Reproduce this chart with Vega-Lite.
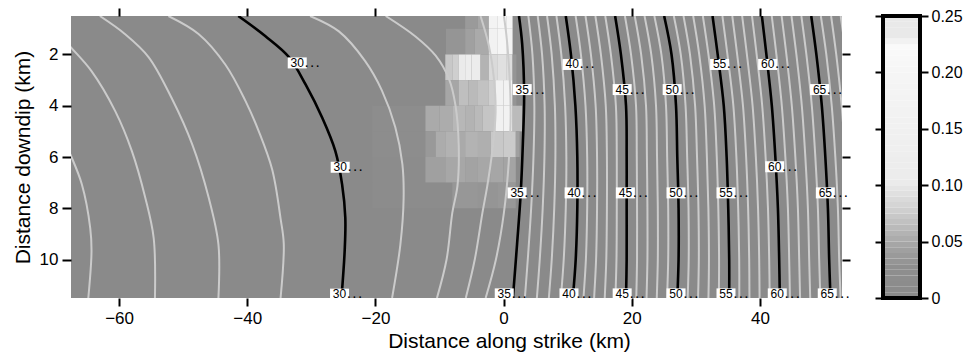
{
"$schema": "https://vega.github.io/schema/vega-lite/v6.json",
"padding": {"left": 12, "top": 7, "right": 5, "bottom": 5},
"background": "white",
"config": {"font": "Liberation Sans", "view": {"stroke": null}, "axis": {"labelFont": "Liberation Sans", "titleFont": "Liberation Sans", "labelFlush": false}},
"spacing": 23,
"datasets": {
"cells": [
{"x0":-6,"x1":-4,"d0":0.5,"d1":1,"v":0.035},{"x0":-4,"x1":-2.3,"d0":0.5,"d1":1,"v":0.045},{"x0":-2.3,"x1":-1,"d0":0.5,"d1":1,"v":0.17},{"x0":-1,"x1":0.5,"d0":0.5,"d1":1,"v":0.2},{"x0":0.5,"x1":1.4,"d0":0.5,"d1":1,"v":0.19},
{"x0":-9,"x1":-6,"d0":1,"d1":2,"v":0.03},{"x0":-6,"x1":-4.5,"d0":1,"d1":2,"v":0.04},{"x0":-4.5,"x1":-2.3,"d0":1,"d1":2,"v":0.048},{"x0":-2.3,"x1":-1,"d0":1,"d1":2,"v":0.16},{"x0":-1,"x1":0.5,"d0":1,"d1":2,"v":0.19},{"x0":0.5,"x1":1.4,"d0":1,"d1":2,"v":0.17},
{"x0":-9.1,"x1":-8,"d0":2,"d1":3,"v":0.07},{"x0":-8,"x1":-7,"d0":2,"d1":3,"v":0.075},{"x0":-7,"x1":-6,"d0":2,"d1":3,"v":0.1},{"x0":-6,"x1":-5,"d0":2,"d1":3,"v":0.12},{"x0":-5,"x1":-3.6,"d0":2,"d1":3,"v":0.11},{"x0":-3.6,"x1":-2.3,"d0":2,"d1":3,"v":0.055},{"x0":-2.3,"x1":-1,"d0":2,"d1":3,"v":0.085},{"x0":-1,"x1":0.5,"d0":2,"d1":3,"v":0.09},{"x0":0.5,"x1":1.4,"d0":2,"d1":3,"v":0.088},{"x0":1.4,"x1":2,"d0":2,"d1":3,"v":0.03},
{"x0":-9.1,"x1":-7,"d0":3,"d1":4,"v":0.045},{"x0":-7,"x1":-5.5,"d0":3,"d1":4,"v":0.064},{"x0":-5.5,"x1":-4,"d0":3,"d1":4,"v":0.06},{"x0":-4,"x1":-2.3,"d0":3,"d1":4,"v":0.066},{"x0":-2.3,"x1":-1.3,"d0":3,"d1":4,"v":0.075},{"x0":-1.3,"x1":0,"d0":3,"d1":4,"v":0.15},{"x0":0,"x1":1.4,"d0":3,"d1":4,"v":0.16},{"x0":1.4,"x1":2,"d0":3,"d1":4,"v":0.03},
{"x0":-20.5,"x1":-12.2,"d0":4,"d1":5,"v":0.014},{"x0":-12.2,"x1":-10,"d0":4,"d1":5,"v":0.048},{"x0":-10,"x1":-8,"d0":4,"d1":5,"v":0.05},{"x0":-8,"x1":-6,"d0":4,"d1":5,"v":0.058},{"x0":-6,"x1":-4.5,"d0":4,"d1":5,"v":0.055},{"x0":-4.5,"x1":-3.3,"d0":4,"d1":5,"v":0.06},{"x0":-3.3,"x1":-1.3,"d0":4,"d1":5,"v":0.068},{"x0":-1.3,"x1":0,"d0":4,"d1":5,"v":0.15},{"x0":0,"x1":1.4,"d0":4,"d1":5,"v":0.16},{"x0":1.4,"x1":2.9,"d0":4,"d1":5,"v":0.061},
{"x0":-20.5,"x1":-12.2,"d0":5,"d1":6,"v":0.014},{"x0":-12.2,"x1":-10.6,"d0":5,"d1":6,"v":0.034},{"x0":-10.6,"x1":-9,"d0":5,"d1":6,"v":0.05},{"x0":-9,"x1":-7,"d0":5,"d1":6,"v":0.054},{"x0":-7,"x1":-6,"d0":5,"d1":6,"v":0.048},{"x0":-6,"x1":-4,"d0":5,"d1":6,"v":0.055},{"x0":-4,"x1":-2,"d0":5,"d1":6,"v":0.052},{"x0":-2,"x1":0,"d0":5,"d1":6,"v":0.07},{"x0":0,"x1":1.9,"d0":5,"d1":6,"v":0.072},{"x0":1.9,"x1":2.5,"d0":5,"d1":6,"v":0.04},
{"x0":-20.5,"x1":-12.2,"d0":6,"d1":7,"v":0.012},{"x0":-12.2,"x1":-9.1,"d0":6,"d1":7,"v":0.04},{"x0":-9.1,"x1":-6,"d0":6,"d1":7,"v":0.046},{"x0":-6,"x1":-4,"d0":6,"d1":7,"v":0.042},{"x0":-4,"x1":-2,"d0":6,"d1":7,"v":0.046},{"x0":-2,"x1":0,"d0":6,"d1":7,"v":0.045},{"x0":0,"x1":1.9,"d0":6,"d1":7,"v":0.043},
{"x0":-20.5,"x1":-8,"d0":7,"d1":8,"v":0.01},{"x0":-8,"x1":-4,"d0":7,"d1":8,"v":0.032},{"x0":-4,"x1":-1,"d0":7,"d1":8,"v":0.03},{"x0":-1,"x1":1.9,"d0":7,"d1":8,"v":0.033}
],
"minor": [
{"t":26,"x":-70,"d":4.6},{"t":26,"x":-67.6,"d":5.9},{"t":26,"x":-65.8,"d":7.07},{"t":26,"x":-64.5,"d":8.77},{"t":26,"x":-64.3,"d":9.68},{"t":26,"x":-64.8,"d":11.5},
{"t":27,"x":-70,"d":1.0},{"t":27,"x":-67.7,"d":1.67},{"t":27,"x":-64.3,"d":2.65},{"t":27,"x":-60.6,"d":4.21},{"t":27,"x":-58.0,"d":5.77},{"t":27,"x":-55.9,"d":7.6},{"t":27,"x":-54.6,"d":9.16},{"t":27,"x":-54.4,"d":11.5},
{"t":28,"x":-63,"d":0.5},{"t":28,"x":-59.1,"d":1.2},{"t":28,"x":-55.4,"d":2.1},{"t":28,"x":-51.8,"d":3.7},{"t":28,"x":-48.6,"d":5.5},{"t":28,"x":-46.0,"d":7.6},{"t":28,"x":-44.5,"d":9.4},{"t":28,"x":-44.5,"d":11.5},
{"t":29,"x":-52.3,"d":0.5},{"t":29,"x":-47.6,"d":1.2},{"t":29,"x":-43.4,"d":2.4},{"t":29,"x":-40.3,"d":3.8},{"t":29,"x":-38.2,"d":5.0},{"t":29,"x":-36.1,"d":6.5},{"t":29,"x":-34.8,"d":8.4},{"t":29,"x":-34.3,"d":9.4},{"t":29,"x":-34.8,"d":11.5},
{"t":31,"x":-30.2,"d":0.5},{"t":31,"x":-25.7,"d":1.1},{"t":31,"x":-21.6,"d":2.26},{"t":31,"x":-19.0,"d":3.4},{"t":31,"x":-16.9,"d":4.84},{"t":31,"x":-15.8,"d":6.27},{"t":31,"x":-15.6,"d":7.6},{"t":31,"x":-16.1,"d":9.4},{"t":31,"x":-17.4,"d":11.5},
{"t":32,"x":-18.4,"d":0.5},{"t":32,"x":-13.75,"d":1.3},{"t":32,"x":-10.6,"d":2.05},{"t":32,"x":-8.5,"d":2.97},{"t":32,"x":-7.5,"d":4.0},{"t":32,"x":-7.0,"d":5.57},{"t":32,"x":-7.2,"d":7.13},{"t":32,"x":-8.0,"d":8.17},{"t":32,"x":-8.9,"d":10},{"t":32,"x":-10.4,"d":11.5},
{"t":33,"x":-3.6,"d":0.5},{"t":33,"x":-2.3,"d":1.66},{"t":33,"x":-1.5,"d":2.97},{"t":33,"x":-1.25,"d":4.27},{"t":33,"x":-1.8,"d":5.83},{"t":33,"x":-2.55,"d":7.13},{"t":33,"x":-3.3,"d":8.17},{"t":33,"x":-4.5,"d":10},{"t":33,"x":-5.9,"d":11.5},
{"t":34,"x":0.05,"d":0.5},{"t":34,"x":0.6,"d":1.66},{"t":34,"x":1.1,"d":4.27},{"t":34,"x":0.8,"d":6.2},{"t":34,"x":0.05,"d":8.17},{"t":34,"x":-1.2,"d":10},{"t":34,"x":-2.8,"d":11.5},
{"t":36,"x":3.86,"d":0.5},{"t":36,"x":4.5,"d":2},{"t":36,"x":4.8,"d":4},{"t":36,"x":4.66,"d":6},{"t":36,"x":4.3,"d":8},{"t":36,"x":3.77,"d":10},{"t":36,"x":3.32,"d":11.5},
{"t":37,"x":5.32,"d":0.5},{"t":37,"x":6.0,"d":2},{"t":37,"x":6.4,"d":4},{"t":37,"x":6.37,"d":6},{"t":37,"x":6.1,"d":8},{"t":37,"x":5.64,"d":10},{"t":37,"x":5.19,"d":11.5},
{"t":38,"x":6.78,"d":0.5},{"t":38,"x":7.5,"d":2},{"t":38,"x":8.0,"d":4},{"t":38,"x":8.08,"d":6},{"t":38,"x":7.9,"d":8},{"t":38,"x":7.51,"d":10},{"t":38,"x":7.06,"d":11.5},
{"t":39,"x":8.24,"d":0.5},{"t":39,"x":9.0,"d":2},{"t":39,"x":9.6,"d":4},{"t":39,"x":9.79,"d":6},{"t":39,"x":9.7,"d":8},{"t":39,"x":9.38,"d":10},{"t":39,"x":8.93,"d":11.5},
{"t":41,"x":11.24,"d":0.5},{"t":41,"x":12.06,"d":2},{"t":41,"x":12.78,"d":4},{"t":41,"x":13.04,"d":6},{"t":41,"x":13.04,"d":8},{"t":41,"x":12.84,"d":10},{"t":41,"x":12.46,"d":11.5},
{"t":42,"x":12.78,"d":0.5},{"t":42,"x":13.62,"d":2},{"t":42,"x":14.36,"d":4},{"t":42,"x":14.58,"d":6},{"t":42,"x":14.58,"d":8},{"t":42,"x":14.43,"d":10},{"t":42,"x":14.12,"d":11.5},
{"t":43,"x":14.32,"d":0.5},{"t":43,"x":15.18,"d":2},{"t":43,"x":15.94,"d":4},{"t":43,"x":16.12,"d":6},{"t":43,"x":16.12,"d":8},{"t":43,"x":16.02,"d":10},{"t":43,"x":15.78,"d":11.5},
{"t":44,"x":15.86,"d":0.5},{"t":44,"x":16.74,"d":2},{"t":44,"x":17.52,"d":4},{"t":44,"x":17.66,"d":6},{"t":44,"x":17.66,"d":8},{"t":44,"x":17.61,"d":10},{"t":44,"x":17.44,"d":11.5},
{"t":46,"x":18.93,"d":0.5},{"t":46,"x":19.88,"d":2},{"t":46,"x":20.66,"d":4},{"t":46,"x":20.78,"d":6},{"t":46,"x":20.82,"d":8},{"t":46,"x":20.82,"d":10},{"t":46,"x":20.7,"d":11.5},
{"t":47,"x":20.46,"d":0.5},{"t":47,"x":21.46,"d":2},{"t":47,"x":22.22,"d":4},{"t":47,"x":22.36,"d":6},{"t":47,"x":22.44,"d":8},{"t":47,"x":22.44,"d":10},{"t":47,"x":22.3,"d":11.5},
{"t":48,"x":21.99,"d":0.5},{"t":48,"x":23.04,"d":2},{"t":48,"x":23.78,"d":4},{"t":48,"x":23.94,"d":6},{"t":48,"x":24.06,"d":8},{"t":48,"x":24.06,"d":10},{"t":48,"x":23.9,"d":11.5},
{"t":49,"x":23.52,"d":0.5},{"t":49,"x":24.62,"d":2},{"t":49,"x":25.34,"d":4},{"t":49,"x":25.52,"d":6},{"t":49,"x":25.68,"d":8},{"t":49,"x":25.68,"d":10},{"t":49,"x":25.5,"d":11.5},
{"t":51,"x":26.56,"d":0.5},{"t":51,"x":27.64,"d":2},{"t":51,"x":28.39,"d":4},{"t":51,"x":28.64,"d":6},{"t":51,"x":28.85,"d":8},{"t":51,"x":28.88,"d":10},{"t":51,"x":28.72,"d":11.5},
{"t":52,"x":28.07,"d":0.5},{"t":52,"x":29.08,"d":2},{"t":52,"x":29.88,"d":4},{"t":52,"x":30.18,"d":6},{"t":52,"x":30.4,"d":8},{"t":52,"x":30.46,"d":10},{"t":52,"x":30.34,"d":11.5},
{"t":53,"x":29.58,"d":0.5},{"t":53,"x":30.52,"d":2},{"t":53,"x":31.37,"d":4},{"t":53,"x":31.72,"d":6},{"t":53,"x":31.95,"d":8},{"t":53,"x":32.04,"d":10},{"t":53,"x":31.96,"d":11.5},
{"t":54,"x":31.09,"d":0.5},{"t":54,"x":31.96,"d":2},{"t":54,"x":32.86,"d":4},{"t":54,"x":33.26,"d":6},{"t":54,"x":33.5,"d":8},{"t":54,"x":33.62,"d":10},{"t":54,"x":33.58,"d":11.5},
{"t":56,"x":34.14,"d":0.5},{"t":56,"x":34.92,"d":2},{"t":56,"x":35.85,"d":4},{"t":56,"x":36.32,"d":6},{"t":56,"x":36.6,"d":8},{"t":56,"x":36.76,"d":10},{"t":56,"x":36.78,"d":11.5},
{"t":57,"x":35.68,"d":0.5},{"t":57,"x":36.44,"d":2},{"t":57,"x":37.35,"d":4},{"t":57,"x":37.84,"d":6},{"t":57,"x":38.15,"d":8},{"t":57,"x":38.32,"d":10},{"t":57,"x":38.36,"d":11.5},
{"t":58,"x":37.22,"d":0.5},{"t":58,"x":37.96,"d":2},{"t":58,"x":38.85,"d":4},{"t":58,"x":39.36,"d":6},{"t":58,"x":39.7,"d":8},{"t":58,"x":39.88,"d":10},{"t":58,"x":39.94,"d":11.5},
{"t":59,"x":38.76,"d":0.5},{"t":59,"x":39.48,"d":2},{"t":59,"x":40.35,"d":4},{"t":59,"x":40.88,"d":6},{"t":59,"x":41.25,"d":8},{"t":59,"x":41.44,"d":10},{"t":59,"x":41.52,"d":11.5},
{"t":61,"x":41.84,"d":0.5},{"t":61,"x":42.56,"d":2},{"t":61,"x":43.41,"d":4},{"t":61,"x":43.96,"d":6},{"t":61,"x":44.36,"d":8},{"t":61,"x":44.56,"d":10},{"t":61,"x":44.68,"d":11.5},
{"t":62,"x":43.38,"d":0.5},{"t":62,"x":44.12,"d":2},{"t":62,"x":44.97,"d":4},{"t":62,"x":45.52,"d":6},{"t":62,"x":45.92,"d":8},{"t":62,"x":46.12,"d":10},{"t":62,"x":46.26,"d":11.5},
{"t":63,"x":44.92,"d":0.5},{"t":63,"x":45.68,"d":2},{"t":63,"x":46.53,"d":4},{"t":63,"x":47.08,"d":6},{"t":63,"x":47.48,"d":8},{"t":63,"x":47.68,"d":10},{"t":63,"x":47.84,"d":11.5},
{"t":64,"x":46.46,"d":0.5},{"t":64,"x":47.24,"d":2},{"t":64,"x":48.09,"d":4},{"t":64,"x":48.64,"d":6},{"t":64,"x":49.04,"d":8},{"t":64,"x":49.24,"d":10},{"t":64,"x":49.42,"d":11.5},
{"t":66,"x":49.5,"d":0.5},{"t":66,"x":50.35,"d":2},{"t":66,"x":51.2,"d":4},{"t":66,"x":51.76,"d":6},{"t":66,"x":52.16,"d":8},{"t":66,"x":52.36,"d":10},{"t":66,"x":52.58,"d":11.5},
{"t":67,"x":51.1,"d":0.5},{"t":67,"x":51.9,"d":2},{"t":67,"x":52.75,"d":4},{"t":67,"x":53.3,"d":6},{"t":67,"x":53.7,"d":8},{"t":67,"x":53.9,"d":10},{"t":67,"x":54.1,"d":11.5},
{"t":68,"x":52.6,"d":0.5},{"t":68,"x":53.4,"d":2},{"t":68,"x":54.3,"d":4},{"t":68,"x":54.9,"d":6},{"t":68,"x":55.2,"d":8},{"t":68,"x":55.4,"d":10},{"t":68,"x":55.6,"d":11.5}
],
"major": [
{"t":30,"x":-41.4,"d":0.5},{"t":30,"x":-37.2,"d":1.28},{"t":30,"x":-33.5,"d":2.1},{"t":30,"x":-30.9,"d":3.17},{"t":30,"x":-28.3,"d":4.47},{"t":30,"x":-26.25,"d":5.77},{"t":30,"x":-25.2,"d":7.07},{"t":30,"x":-24.7,"d":8.37},{"t":30,"x":-24.8,"d":9.66},{"t":30,"x":-25.3,"d":11.5},
{"t":35,"x":2.4,"d":0.5},{"t":35,"x":2.9,"d":1.6},{"t":35,"x":3.2,"d":3.55},{"t":35,"x":3.0,"d":5.5},{"t":35,"x":2.66,"d":7.45},{"t":35,"x":2.1,"d":9.4},{"t":35,"x":1.45,"d":11.5},
{"t":40,"x":9.7,"d":0.5},{"t":40,"x":10.5,"d":2},{"t":40,"x":11.2,"d":4},{"t":40,"x":11.5,"d":6},{"t":40,"x":11.5,"d":8},{"t":40,"x":11.25,"d":10},{"t":40,"x":10.8,"d":11.5},
{"t":45,"x":17.4,"d":0.5},{"t":45,"x":18.3,"d":2},{"t":45,"x":19.1,"d":4},{"t":45,"x":19.2,"d":6},{"t":45,"x":19.2,"d":8},{"t":45,"x":19.2,"d":10},{"t":45,"x":19.1,"d":11.5},
{"t":50,"x":25.05,"d":0.5},{"t":50,"x":26.2,"d":2},{"t":50,"x":26.9,"d":4},{"t":50,"x":27.1,"d":6},{"t":50,"x":27.3,"d":8},{"t":50,"x":27.3,"d":10},{"t":50,"x":27.1,"d":11.5},
{"t":55,"x":32.6,"d":0.5},{"t":55,"x":33.4,"d":2},{"t":55,"x":34.35,"d":4},{"t":55,"x":34.8,"d":6},{"t":55,"x":35.05,"d":8},{"t":55,"x":35.2,"d":10},{"t":55,"x":35.2,"d":11.5},
{"t":60,"x":40.3,"d":0.5},{"t":60,"x":41.0,"d":2},{"t":60,"x":41.85,"d":4},{"t":60,"x":42.4,"d":6},{"t":60,"x":42.8,"d":8},{"t":60,"x":43.0,"d":10},{"t":60,"x":43.1,"d":11.5},
{"t":65,"x":48.0,"d":0.5},{"t":65,"x":48.8,"d":2},{"t":65,"x":49.65,"d":4},{"t":65,"x":50.2,"d":6},{"t":65,"x":50.6,"d":8},{"t":65,"x":50.8,"d":10},{"t":65,"x":51.0,"d":11.5}
],
"labels": [
{"lab":"30","x":-32.2,"d":2.33},{"lab":"30","x":-25.5,"d":6.4},{"lab":"30","x":-25.6,"d":11.35},
{"lab":"35","x":2.9,"d":3.37},{"lab":"35","x":2.1,"d":7.4},{"lab":"35","x":0.1,"d":11.34},
{"lab":"40","x":10.7,"d":2.39},{"lab":"40","x":11.0,"d":7.4},{"lab":"40","x":10.2,"d":11.34},
{"lab":"45","x":18.5,"d":3.37},{"lab":"45","x":19.0,"d":7.4},{"lab":"45","x":18.5,"d":11.34},
{"lab":"50","x":26.3,"d":3.37},{"lab":"50","x":26.9,"d":7.4},{"lab":"50","x":26.9,"d":11.34},
{"lab":"55","x":33.7,"d":2.39},{"lab":"55","x":34.7,"d":7.4},{"lab":"55","x":34.7,"d":11.34},
{"lab":"60","x":41.2,"d":2.39},{"lab":"60","x":42.3,"d":6.38},{"lab":"60","x":42.7,"d":11.34},
{"lab":"65","x":49.3,"d":3.37},{"lab":"65","x":50.2,"d":7.4},{"lab":"65","x":50.5,"d":11.34}
],
"bar": [
{"lo":0,"hi":0.005},{"lo":0.005,"hi":0.01},{"lo":0.01,"hi":0.015},{"lo":0.015,"hi":0.02},{"lo":0.02,"hi":0.025},{"lo":0.025,"hi":0.03},{"lo":0.03,"hi":0.035},{"lo":0.035,"hi":0.04},{"lo":0.04,"hi":0.045},{"lo":0.045,"hi":0.05},
{"lo":0.05,"hi":0.055},{"lo":0.055,"hi":0.06},{"lo":0.06,"hi":0.065},{"lo":0.065,"hi":0.07},{"lo":0.07,"hi":0.075},{"lo":0.075,"hi":0.08},{"lo":0.08,"hi":0.085},{"lo":0.085,"hi":0.09},{"lo":0.09,"hi":0.095},{"lo":0.095,"hi":0.1},
{"lo":0.1,"hi":0.105},{"lo":0.105,"hi":0.11},{"lo":0.11,"hi":0.115},{"lo":0.115,"hi":0.12},{"lo":0.12,"hi":0.125},{"lo":0.125,"hi":0.13},{"lo":0.13,"hi":0.135},{"lo":0.135,"hi":0.14},{"lo":0.14,"hi":0.145},{"lo":0.145,"hi":0.15},
{"lo":0.15,"hi":0.155},{"lo":0.155,"hi":0.16},{"lo":0.16,"hi":0.165},{"lo":0.165,"hi":0.17},{"lo":0.17,"hi":0.175},{"lo":0.175,"hi":0.18},{"lo":0.18,"hi":0.185},{"lo":0.185,"hi":0.19},{"lo":0.19,"hi":0.195},{"lo":0.195,"hi":0.2},
{"lo":0.2,"hi":0.205},{"lo":0.205,"hi":0.21},{"lo":0.21,"hi":0.215},{"lo":0.215,"hi":0.22},{"lo":0.22,"hi":0.225},{"lo":0.225,"hi":0.23},{"lo":0.23,"hi":0.235},{"lo":0.235,"hi":0.24},{"lo":0.24,"hi":0.245},{"lo":0.245,"hi":0.25}
]
},
"hconcat": [
{
"width": 771, "height": 282,
"view": {"fill": "#8a8a8a", "stroke": null},
"layer": [
{"data": {"name": "cells"}, "mark": {"type": "rect", "clip": true},
 "encoding": {
  "x": {"field": "x0", "type": "quantitative", "scale": {"domain": [-67.5, 52.8], "nice": false, "zero": false},
        "axis": {"orient": "bottom", "values": [-60,-40,-20,0,20,40], "domain": false, "grid": false, "tickSize": 8, "tickWidth": 2, "tickColor": "black", "labelFontSize": 17, "labelColor": "black", "labelPadding": 4, "title": "Distance along strike (km)", "titleFontSize": 21, "titleFontWeight": "normal", "titleColor": "black", "titleX": 438, "titlePadding": 4}},
  "x2": {"field": "x1"},
  "y": {"field": "d0", "type": "quantitative", "scale": {"domain": [0.5, 11.5], "reverse": true, "nice": false, "zero": false},
        "axis": {"orient": "left", "values": [2,4,6,8,10], "domain": false, "grid": false, "tickSize": 9, "tickWidth": 2, "tickColor": "black", "labelFontSize": 17, "labelColor": "black", "labelPadding": 4, "title": "Distance downdip (km)", "titleFontSize": 21, "titleFontWeight": "normal", "titleColor": "black", "titlePadding": 6}},
  "y2": {"field": "d1"},
  "color": {"field": "v", "type": "quantitative", "legend": null,
            "scale": {"domain": [0, 0.025, 0.05, 0.075, 0.1, 0.15, 0.2, 0.224, 0.226, 0.25], "range": ["#8a8a8a","#8f8f8f","#acacac","#cfcfcf","#ebebeb","#f1f1f1","#f6f6f6","#fbfbfb","#e9e9e9","#e9e9e9"], "clamp": true}}
 }},
{"data": {"name": "minor"}, "mark": {"type": "line", "clip": true, "interpolate": "catmull-rom", "color": "#cbcbcb", "strokeWidth": 2},
 "encoding": {
  "x": {"field": "x", "type": "quantitative", "axis": {"orient": "top", "values": [-60,-40,-20,0,20,40], "domain": false, "grid": false, "labels": false, "tickSize": 8, "tickWidth": 2, "tickColor": "black", "title": null}},
  "y": {"field": "d", "type": "quantitative", "axis": {"orient": "right", "values": [2,4,6,8,10], "domain": false, "grid": false, "labels": false, "tickSize": 8, "tickWidth": 2, "tickColor": "black", "title": null}},
  "detail": {"field": "t"},
  "order": {"field": "d"}
 }},
{"data": {"name": "major"}, "mark": {"type": "line", "clip": true, "interpolate": "catmull-rom", "color": "black", "strokeWidth": 2.6},
 "encoding": {
  "x": {"field": "x", "type": "quantitative", "axis": null},
  "y": {"field": "d", "type": "quantitative", "axis": null},
  "detail": {"field": "t"},
  "order": {"field": "d"}
 }},
{"data": {"name": "labels"}, "mark": {"type": "point", "shape": "M-1,-0.58H1V0.58H-1Z", "size": 361, "filled": true, "color": "white", "opacity": 1, "strokeWidth": 0},
 "encoding": {
  "x": {"field": "x", "type": "quantitative", "axis": null},
  "y": {"field": "d", "type": "quantitative", "axis": null}
 }},
{"data": {"name": "labels"}, "mark": {"type": "text", "fontSize": 12, "color": "black", "align": "center", "baseline": "middle"},
 "encoding": {
  "x": {"field": "x", "type": "quantitative", "axis": null},
  "y": {"field": "d", "type": "quantitative", "axis": null},
  "text": {"field": "lab"}
 }},
{"data": {"name": "labels"}, "mark": {"type": "text", "text": ". . .", "fontSize": 10, "fontWeight": "bold", "color": "black", "align": "left", "baseline": "alphabetic", "dx": 8, "dy": 4},
 "encoding": {
  "x": {"field": "x", "type": "quantitative", "axis": null},
  "y": {"field": "d", "type": "quantitative", "axis": null}
 }}
],
"resolve": {"axis": {"x": "independent", "y": "independent"}}
},
{
"width": 37, "height": 282,
"data": {"name": "bar"},
"layer": [
{"mark": {"type": "rect"},
 "encoding": {
  "x": {"datum": 0, "type": "quantitative", "scale": {"domain": [0, 1], "nice": false, "zero": false}, "axis": null},
  "x2": {"datum": 1},
  "y": {"field": "lo", "type": "quantitative", "scale": {"domain": [0, 0.25], "nice": false, "zero": false},
        "axis": {"orient": "right", "values": [0,0.05,0.1,0.15,0.2,0.25], "labelExpr": "datum.value == 0 ? '0' : format(datum.value, '.2f')", "domain": false, "grid": false, "tickSize": 8, "tickWidth": 2, "tickColor": "black", "labelFontSize": 16, "labelColor": "black", "labelPadding": 3, "labelFlush": false, "title": null}},
  "y2": {"field": "hi"},
  "color": {"field": "lo", "type": "quantitative", "legend": null,
            "scale": {"domain": [0, 0.025, 0.05, 0.075, 0.1, 0.15, 0.2, 0.224, 0.226, 0.25], "range": ["#8a8a8a","#8f8f8f","#acacac","#cfcfcf","#ebebeb","#f1f1f1","#f6f6f6","#fbfbfb","#e9e9e9","#e9e9e9"], "clamp": true}}
 }},
{"mark": {"type": "rect", "opacity": 0},
 "encoding": {
  "x": {"datum": 0, "type": "quantitative", "axis": null},
  "x2": {"datum": 1},
  "y": {"field": "lo", "type": "quantitative", "axis": {"orient": "left", "values": [0,0.05,0.1,0.15,0.2,0.25], "domain": false, "grid": false, "labels": false, "tickSize": 8, "tickWidth": 2, "tickColor": "black", "title": null}},
  "y2": {"field": "hi"}
 }},
{"mark": {"type": "rect", "fill": null, "stroke": "black", "strokeWidth": 2.5},
 "encoding": {
  "x": {"datum": 0, "type": "quantitative", "axis": null},
  "x2": {"datum": 1},
  "y": {"datum": 0, "type": "quantitative", "axis": null},
  "y2": {"datum": 0.25}
 }}
],
"resolve": {"axis": {"y": "independent"}}
}
]
}
